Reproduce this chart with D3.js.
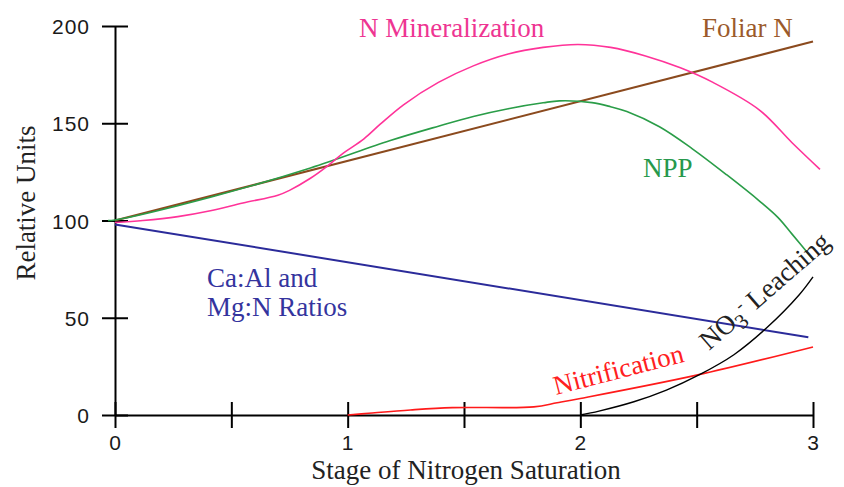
<!DOCTYPE html>
<html>
<head>
<meta charset="utf-8">
<script src="https://cdn.jsdelivr.net/npm/d3@7"></script>
<style>
  body { margin: 0; background: #fff; }
  .canvas { width: 844px; height: 487px; }
  text { font-family: "Liberation Serif", "Times New Roman", serif; }
  .tk text { font-family: "Liberation Sans", Arial, sans-serif; font-size: 21px; letter-spacing: 1px; fill: #1a1a1a; }
</style>
</head>
<body>
<div class="canvas" id="canvas"></div>
<script>
// --- data (x = stage, y = relative units)
var foliarX = [0, 3];
var foliarY = [100, 192];

var ratioX = [0, 2.98];
var ratioY = [98, 40];

var mineralX = [0, 0.12, 0.27, 0.41, 0.55, 0.70, 0.75, 0.84, 0.91, 0.98, 1.07, 1.14, 1.24, 1.39, 1.54, 1.69, 1.84, 1.99, 2.13, 2.28, 2.43, 2.57, 2.77, 2.91, 3.03];
var mineralY = [99, 100, 102, 105, 109, 113, 115.5, 121.7, 127.7, 134.5, 142, 149.5, 159.5, 171, 179.5, 185.6, 189, 190.5, 189, 184.6, 178.5, 171, 156.8, 140, 126.3];

var nppX = [-0.03, 0, 0.41, 0.84, 1.18, 1.39, 1.54, 1.69, 1.84, 1.91, 2.05, 2.13, 2.2, 2.34, 2.48, 2.63, 2.77, 2.85, 2.91, 3.0];
var nppY = [100, 100.3, 112, 127, 141, 148.5, 153.5, 157.5, 160.5, 161.5, 160.6, 158.5, 156, 148.2, 137, 123.4, 110, 101.5, 93, 80];

var nitrifX = [1.0, 1.09, 1.27, 1.45, 1.8, 1.9, 2.0, 2.5, 3.0];
var nitrifY = [0, 0.9, 2.6, 3.8, 4.2, 6.3, 8.5, 20.5, 35];

var leachX = [2.0, 2.08, 2.23, 2.37, 2.51, 2.66, 2.80, 2.94, 3.0];
var leachY = [0, 2, 6.8, 12.8, 20.6, 31, 44.7, 61.7, 71];

var xTicks = [0, 0.5, 1, 1.5, 2, 2.5, 3];
var xTickLabels = {0: "0", 1: "1", 2: "2", 3: "3"};
var yTicks = [0, 50, 100, 150, 200];

// --- svg
var W = 844, H = 487;
var svg = d3.select('.canvas')
  .append('svg')
  .attr('width', W)
  .attr('height', H);

// --- scales
var x = d3.scaleLinear().domain([0, 3]).range([115, 813]);
var y = d3.scaleLinear().domain([0, 200]).range([415, 26]);

// --- axes (ticks cross the line)
var xAxis = d3.axisBottom(x).tickValues(xTicks).tickSizeOuter(0).tickSizeInner(13)
  .tickFormat(function(d){ return xTickLabels[d] || ""; });
var yAxis = d3.axisLeft(y).tickValues(yTicks).tickSizeOuter(0).tickSizeInner(13);

var gx = svg.append('g').attr('class', 'tk').attr('transform', 'translate(0,415)').call(xAxis);
gx.selectAll('.tick line').attr('y1', -13).attr('y2', 13).attr('stroke', '#000').attr('stroke-width', 2);
gx.selectAll('.tick text').attr('y', 20).attr('dy', '0.71em');
gx.select('.domain').attr('stroke', '#000').attr('stroke-width', 2);

var gy = svg.append('g').attr('class', 'tk').attr('transform', 'translate(115,0)').call(yAxis);
gy.selectAll('.tick line').attr('x1', -13).attr('x2', 13).attr('stroke', '#000').attr('stroke-width', 2);
gy.selectAll('.tick text').attr('x', -25).attr('dy', '0.36em');
gy.select('.domain').attr('stroke', '#000').attr('stroke-width', 2);

// --- series
var series = [
  {xs: foliarX, ys: foliarY, col: '#8b4a1e', sw: 2},
  {xs: ratioX, ys: ratioY, col: '#2b2b9a', sw: 2},
  {xs: nppX, ys: nppY, col: '#2a9d48', sw: 1.6},
  {xs: mineralX, ys: mineralY, col: '#ff3399', sw: 1.6},
  {xs: nitrifX, ys: nitrifY, col: '#ff1a1a', sw: 1.6},
  {xs: leachX, ys: leachY, col: '#000000', sw: 1.4}
];

var line = d3.line()
  .x(function(d){ return x(d[0]); })
  .y(function(d){ return y(d[1]); })
  .curve(d3.curveCatmullRom.alpha(0.5));

series.forEach(function(s){
  var pts = s.xs.map(function(v, i){ return [v, s.ys[i]]; });
  svg.append('path')
    .attr('d', line(pts))
    .attr('fill', 'none')
    .attr('stroke', s.col)
    .attr('stroke-width', s.sw);
});

// --- labels
var labels = [
  {t: 'N Mineralization', x: 359, y: 37, col: '#ee3592'},
  {t: 'Foliar N', x: 702, y: 37, col: '#9b5a2a'},
  {t: 'NPP', x: 643, y: 177, col: '#27994c'},
  {t: 'Ca:Al and', x: 207, y: 287, col: '#34349e'},
  {t: 'Mg:N Ratios', x: 207, y: 316, col: '#34349e'}
];
svg.selectAll('text.lab')
  .data(labels)
  .enter()
  .append('text')
  .attr('class', 'lab')
  .attr('x', function(d){ return d.x; })
  .attr('y', function(d){ return d.y; })
  .attr('font-size', '27px')
  .attr('fill', function(d){ return d.col; })
  .text(function(d){ return d.t; });

svg.append('text')
  .attr('transform', 'translate(556,395) rotate(-14.5)')
  .attr('font-size', '27px')
  .attr('fill', '#ff2020')
  .text('Nitrification');

var leach = svg.append('text')
  .attr('transform', 'translate(709,351) rotate(-41)')
  .attr('font-size', '27px')
  .attr('fill', '#222');
leach.append('tspan').text('NO');
leach.append('tspan').attr('font-size', '21px').attr('dy', 6).text('3');
leach.append('tspan').attr('font-size', '18px').attr('dy', -15).text('-');
leach.append('tspan').attr('dy', 9).text(' Leaching');

// --- axis titles
svg.append('text')
  .attr('x', 466)
  .attr('y', 479)
  .attr('text-anchor', 'middle')
  .attr('font-size', '27px')
  .attr('fill', '#222')
  .text('Stage of Nitrogen Saturation');

svg.append('text')
  .attr('transform', 'translate(35,203) rotate(-90)')
  .attr('text-anchor', 'middle')
  .attr('font-size', '27px')
  .attr('fill', '#222')
  .text('Relative Units');
</script>
</body>
</html>
